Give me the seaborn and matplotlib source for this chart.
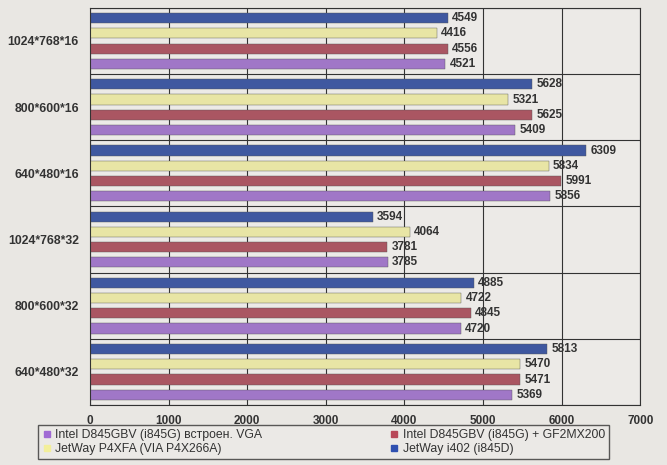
import pandas as pd
import seaborn as sns
import matplotlib.pyplot as plt
from matplotlib.lines import Line2D

# данные с графика (сверху вниз)
modes = ["1024*768*16", "800*600*16", "640*480*16", "1024*768*32", "800*600*32", "640*480*32"]
jetway_i402 = [4549, 5628, 6309, 3594, 4885, 5813]
jetway_p4xfa = [4416, 5321, 5834, 4064, 4722, 5470]
intel_gf2 = [4556, 5625, 5991, 3781, 4845, 5471]
intel_vga = [4521, 5409, 5856, 3785, 4720, 5369]

names = ["JetWay i402 (i845D)", "JetWay P4XFA (VIA P4X266A)",
         "Intel D845GBV (i845G) + GF2MX200", "Intel D845GBV (i845G) встроен. VGA"]
colors = ["#2f50b0", "#f3ef9a", "#b84858", "#a06ad4"]

rows = []
for name, vals in zip(names, [jetway_i402, jetway_p4xfa, intel_gf2, intel_vga]):
    for m, v in zip(modes, vals):
        rows.append({"mode": m, "fps": v, "board": name})
df = pd.DataFrame(rows)

sns.set_style("white")
plt.rcParams['font.family'] = ['Liberation Sans', 'DejaVu Sans']

fig = plt.figure(figsize=(6.67, 4.65), dpi=100)
fig.patch.set_facecolor("#e9e7e3")
ax = fig.add_axes([0.135, 0.129, 0.825, 0.854])
ax.set_facecolor("#eceae7")

sns.barplot(data=df, y="mode", x="fps", hue="board", hue_order=names, order=modes,
            palette=colors, orient="h", width=0.92, gap=0.33, ax=ax,
            edgecolor="#555555", linewidth=0.3, legend=False)

for cont in ax.containers:
    ax.bar_label(cont, padding=3, fontsize=8.5, fontweight="bold", color="#333333")

ax.set_xlim(0, 7000)
ax.set_ylim(5.5, -0.5)
ax.set_xticks(range(0, 7001, 1000))
ax.set_yticks([i - 0.5 for i in range(7)], minor=True)
ax.grid(True, axis="x", color="#333333", linewidth=0.8)
ax.grid(True, axis="y", which="minor", color="#333333", linewidth=0.8)
ax.set_axisbelow(True)
for s in ax.spines.values():
    s.set_color("#333333")
    s.set_linewidth(0.8)
ax.tick_params(axis="x", length=4, labelsize=8.5, colors="#333333")
ax.tick_params(axis="y", which="major", length=0, labelsize=8.8, pad=8)
ax.tick_params(axis="y", which="minor", length=4, color="#333333")
for lbl in ax.get_xticklabels() + ax.get_yticklabels():
    lbl.set_fontweight("bold")
    lbl.set_color("#333333")
ax.set_xlabel("")
ax.set_ylabel("")

# легенда: порядок как на исходнике
leg_idx = [3, 1, 2, 0]
handles = [Line2D([], [], marker="s", linestyle="", markersize=5,
                  markerfacecolor=colors[i], markeredgecolor=colors[i]) for i in leg_idx]
leg = fig.legend(handles, [names[i] for i in leg_idx], ncol=2, loc="lower center",
                 bbox_to_anchor=(0.485, 0.0), frameon=True, fancybox=False,
                 fontsize=8.8, handlelength=0.8, handletextpad=0.3,
                 columnspacing=10.4, borderpad=0.3, labelspacing=0.2)
leg.get_frame().set_edgecolor("#333333")
leg.get_frame().set_facecolor("#eceae7")
for t in leg.get_texts():
    t.set_color("#333333")

plt.savefig("out.png", dpi=100, facecolor=fig.get_facecolor())
